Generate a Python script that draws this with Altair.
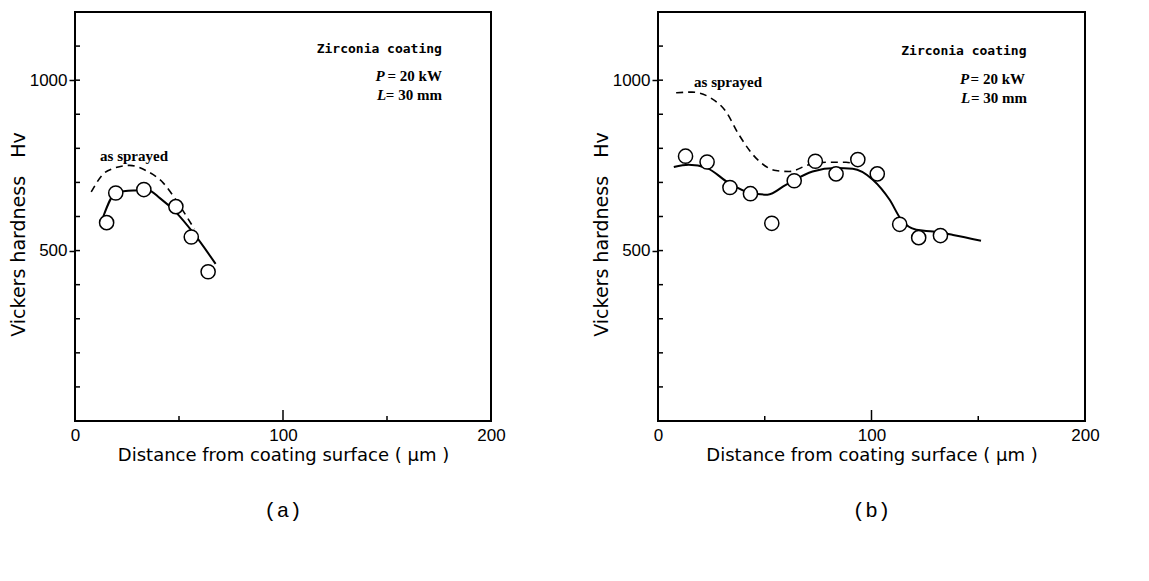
import altair as alt
import pandas as pd

# ---------------- data ----------------
# Panel (a)
a_pts_x = [15.2, 19.6, 33.1, 48.5, 55.9, 64.0]
a_pts_y = [582, 669, 679, 629, 540, 438]
a_fit_x = [13.6, 19.6, 27.9, 35.1, 40.8, 48.9, 57.0, 67.6]
a_fit_y = [600, 669, 676, 677, 654, 610, 551, 461]
a_spr_x = [7.8, 13.3, 19.0, 26.3, 34.4, 42.5, 49.0, 57.4]
a_spr_y = [672, 723, 742, 750, 734, 698, 644, 563]

# Panel (b)
b_pts_x = [12.9, 23.0, 33.7, 43.3, 53.3, 63.8, 73.7, 83.4, 93.6, 102.7, 113.2, 122.1, 132.3]
b_pts_y = [777, 760, 685, 667, 580, 705, 762, 725, 767, 725, 577, 538, 544]
b_fit_x = [7.4, 14.4, 23.0, 33.2, 43.4, 51.3, 59.9, 72.4, 83.4, 91.2, 100.6, 108.5, 114.0,
           121.0, 128.8, 138.2, 151.3]
b_fit_y = [745, 752, 742, 698, 669, 664, 693, 732, 742, 740, 708, 649, 590, 561, 556, 546, 529]
b_spr_x = [8.5, 16.0, 24.6, 31.7, 37.9, 45.8, 55.2, 61.4, 70.8, 78.7, 88.1, 90.4]
b_spr_y = [963, 965, 948, 909, 840, 772, 735, 732, 752, 759, 759, 757]

# axes
x_labels = [0, 100, 200]
y_labels = [500, 1000]
y_minor = [100, 200, 300, 400, 500, 600, 700, 800, 900, 1000, 1100]
x_minor_short = [50, 150]
x_minor_long = [100]

# annotations (data coordinates)
a_ann = {"zr": (176.4, 1091), "p": (144.5, 1012), "pr": (176.4, 1012),
         "l": (145.2, 957), "lr": (176.4, 957), "as": (28.4, 778)}
b_ann = {"zr": (172.6, 1086), "p": (141.5, 1003), "pr": (171.9, 1003),
         "l": (141.9, 948), "lr": (172.8, 948), "as": (32.8, 995)}

H = 409
XDOM = [0, 200]
YDOM = [0, 1200]


def panel(pts_x, pts_y, fit_x, fit_y, spr_x, spr_y, ann, caption, width):
    xs = alt.Scale(domain=XDOM, nice=False, zero=False)
    ys = alt.Scale(domain=YDOM, nice=False, zero=False)

    x_axis = alt.Axis(values=x_labels, format="d",
                      title="Distance from coating surface ( μm )",
                      labelFont="Liberation Sans", labelFontSize=17, labelColor="black",
                      titleFont="DejaVu Sans", titleFontSize=18, titleFontWeight="normal",
                      titleColor="black", tickSize=0, labelPadding=6, titlePadding=3,
                      labelFlush=False, domain=False, grid=False)
    y_axis = alt.Axis(values=y_labels, format="d",
                      title="Vickers hardness\u00a0\u00a0\u00a0Hv",
                      labelFont="Liberation Sans", labelFontSize=17, labelColor="black",
                      titleFont="DejaVu Sans", titleFontSize=19, titleFontWeight="normal",
                      titleColor="black", titleY=222,
                      tickSize=6, tickWidth=1.5, tickColor="black",
                      labelPadding=2, titlePadding=1, domain=False, grid=False)

    pts = pd.DataFrame({"x": pts_x, "y": pts_y})
    fit = pd.DataFrame({"x": fit_x, "y": fit_y})
    spr = pd.DataFrame({"x": spr_x, "y": spr_y})

    base_fit = alt.Chart(fit).mark_line(
        color="black", strokeWidth=2, interpolate="monotone"
    ).encode(x=alt.X("x:Q", scale=xs, axis=x_axis), y=alt.Y("y:Q", scale=ys, axis=y_axis))

    dashed = alt.Chart(spr).mark_line(
        color="black", strokeWidth=1.6, strokeDash=[7, 5], interpolate="monotone"
    ).encode(x=alt.X("x:Q", scale=xs), y=alt.Y("y:Q", scale=ys))

    circles = alt.Chart(pts).mark_point(
        shape="circle", filled=True, fill="white", stroke="black", strokeWidth=1.5,
        size=200, opacity=1
    ).encode(x=alt.X("x:Q", scale=xs), y=alt.Y("y:Q", scale=ys))

    yt = alt.Chart(pd.DataFrame({"y": y_minor})).mark_rule(
        color="black", strokeWidth=1.5
    ).encode(y=alt.Y("y:Q", scale=ys), x=alt.value(0), x2=alt.value(5))
    xt1 = alt.Chart(pd.DataFrame({"x": x_minor_short})).mark_rule(
        color="black", strokeWidth=1.5
    ).encode(x=alt.X("x:Q", scale=xs), y=alt.value(H), y2=alt.value(H - 5))
    xt2 = alt.Chart(pd.DataFrame({"x": x_minor_long})).mark_rule(
        color="black", strokeWidth=1.5
    ).encode(x=alt.X("x:Q", scale=xs), y=alt.value(H), y2=alt.value(H - 11))

    def txt(text, key, align, font, size, style="normal", weight="normal"):
        x, y = ann[key]
        return alt.Chart(pd.DataFrame({"x": [x], "y": [y], "t": [text]})).mark_text(
            align=align, baseline="middle", font=font, fontSize=size, fontStyle=style,
            fontWeight=weight, color="black"
        ).encode(x=alt.X("x:Q", scale=xs), y=alt.Y("y:Q", scale=ys), text="t:N")

    zr = txt("Zirconia coating", "zr", "right", "DejaVu Sans Mono", 13, weight="bold")
    p1 = txt("P", "p", "left", "Liberation Serif", 15, style="italic", weight="bold")
    p2 = txt("= 20 kW", "pr", "right", "Liberation Serif", 15, weight="bold")
    l1 = txt("L", "l", "left", "Liberation Serif", 15, style="italic", weight="bold")
    l2 = txt("= 30 mm", "lr", "right", "Liberation Serif", 15, weight="bold")
    asp = txt("as sprayed", "as", "center", "Liberation Serif", 15, weight="bold")

    cap = alt.Chart(pd.DataFrame({"x": [100], "t": [caption]})).mark_text(
        align="center", baseline="middle", font="Liberation Mono", fontSize=21,
        color="black"
    ).encode(x=alt.X("x:Q", scale=xs), y=alt.value(499), text="t:N")

    return alt.layer(base_fit, dashed, circles, yt, xt1, xt2, zr, p1, p2, l1, l2, asp,
                     cap).properties(width=width, height=H)


pa = panel(a_pts_x, a_pts_y, a_fit_x, a_fit_y, a_spr_x, a_spr_y, a_ann, "(a)", 416)
pb = panel(b_pts_x, b_pts_y, b_fit_x, b_fit_y, b_spr_x, b_spr_y, b_ann, "(b)", 427)

chart = alt.hconcat(pa, pb, spacing=167, bounds="flush").properties(
    padding={"left": 8, "top": 11, "right": 5, "bottom": 5},
    background="white"
).configure_view(
    stroke="black", strokeWidth=2
)

chart.save("out.html", embed_options={"renderer": "svg", "actions": False})
